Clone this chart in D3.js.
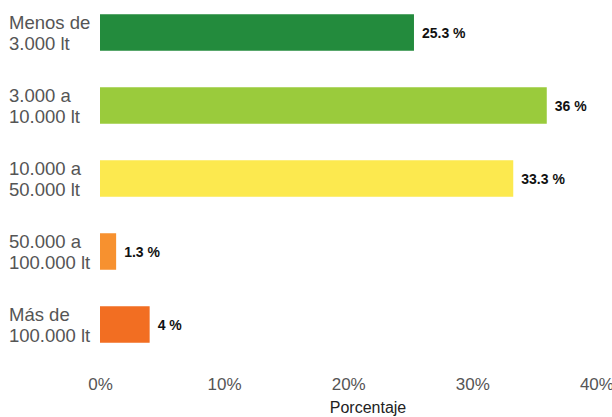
<!DOCTYPE html>
<html>
<head>
<meta charset="utf-8">
<script src="https://cdn.jsdelivr.net/npm/d3@7"></script>
<style>
  html, body { margin: 0; padding: 0; background: #fff; }
  svg { display: block; font-family: "Liberation Sans", Arial, sans-serif; }
</style>
</head>
<body>
<svg id="chart" width="612" height="417"></svg>
<script>
const categories = [
  ["Menos de", "3.000 lt"],
  ["3.000 a", "10.000 lt"],
  ["10.000 a", "50.000 lt"],
  ["50.000 a", "100.000 lt"],
  ["Más de", "100.000 lt"]
];
const values = [25.3, 36, 33.3, 1.3, 4];
const valueLabels = ["25.3 %", "36 %", "33.3 %", "1.3 %", "4 %"];
const colors = ["#238b3d", "#9acb3c", "#fce94f", "#f7912f", "#f26e22"];
const xTicks = [0, 10, 20, 30, 40];
const xTickLabels = ["0%", "10%", "20%", "30%", "40%"];
const xTitle = "Porcentaje";

const svg = d3.select("#chart");
const ids = categories.map((d, i) => i);

const x = d3.scaleLinear().domain([0, 40]).range([100, 596.4]);
const y = d3.scaleBand().domain(ids).range([-4, 361])
  .paddingInner(0.5).paddingOuter(0.25);

// bars
svg.append("g").selectAll("rect").data(ids).join("rect")
  .attr("x", x(0))
  .attr("y", i => y(i))
  .attr("width", i => x(values[i]) - x(0))
  .attr("height", y.bandwidth())
  .attr("fill", i => colors[i]);

// value labels
svg.append("g").selectAll("text").data(ids).join("text")
  .attr("x", i => x(values[i]) + 8)
  .attr("y", i => y(i) + y.bandwidth() / 2)
  .attr("dy", "0.36em")
  .attr("font-size", 14)
  .attr("font-weight", "bold")
  .attr("fill", "#111")
  .text(i => valueLabels[i]);

// category labels (two lines, left aligned)
const cat = svg.append("g").selectAll("text").data(ids).join("text")
  .attr("x", 9)
  .attr("y", i => y(i) + y.bandwidth() / 2)
  .attr("font-size", 18.5)
  .attr("fill", "#555");
cat.append("tspan").attr("x", 9).attr("dy", "-0.2em").text(i => categories[i][0]);
cat.append("tspan").attr("x", 9).attr("dy", "1.14em").text(i => categories[i][1]);

// x axis
const xAxis = d3.axisBottom(x).tickValues(xTicks)
  .tickFormat((d, i) => xTickLabels[i]).tickSize(0).tickPadding(0);
const gx = svg.append("g").attr("transform", "translate(0,375)").call(xAxis);
gx.select(".domain").remove();
gx.selectAll("text")
  .attr("font-size", 17)
  .attr("font-family", "Liberation Sans, Arial, sans-serif")
  .attr("fill", "#555")
  .attr("dy", "0.9em");

// axis title
svg.append("text")
  .attr("x", 368)
  .attr("y", 413)
  .attr("text-anchor", "middle")
  .attr("font-size", 16)
  .attr("fill", "#222")
  .text(xTitle);
</script>
</body>
</html>
